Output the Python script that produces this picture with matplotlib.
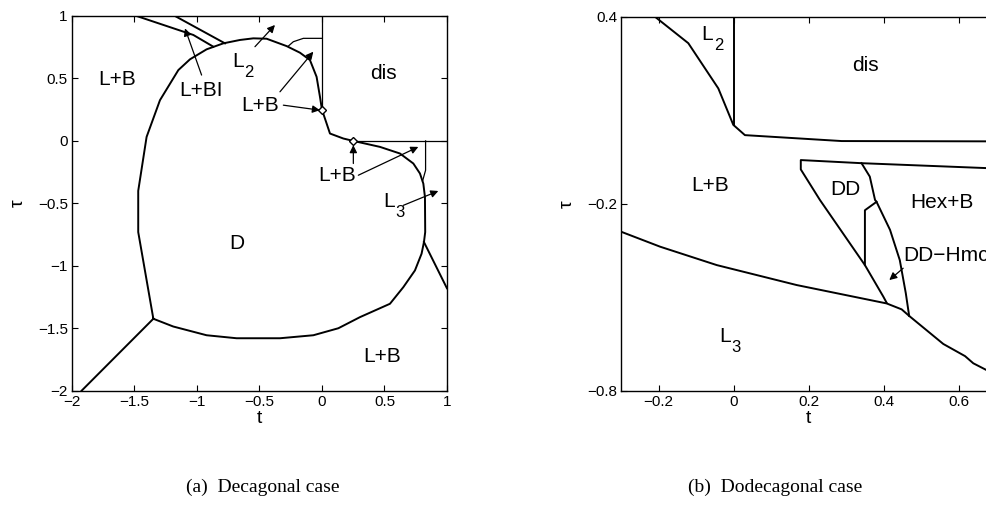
import matplotlib
matplotlib.use("Agg")
import matplotlib.pyplot as plt

plt.rcParams['font.family'] = ['Liberation Sans', 'DejaVu Sans']

# ---- (a) decagonal case: phase boundaries (t, tau) ----
d_t = [-1.349, -1.47, -1.47, -1.403, -1.296, -1.149, -1.056, -0.923, -0.789, -0.656,
       -0.549, -0.443, -0.283, -0.176, -0.096, -0.043, -0.016, 0.0, 0.037, 0.064,
       0.171, 0.25, 0.464, 0.624, 0.731, 0.784, 0.811, 0.824, 0.826, 0.816,
       0.797, 0.744, 0.651, 0.544, 0.304, 0.131, -0.069, -0.336, -0.683, -0.923,
       -1.19, -1.349]
d_tau = [-1.424, -0.73, -0.40, 0.032, 0.326, 0.567, 0.653, 0.733, 0.781, 0.808,
         0.821, 0.818, 0.759, 0.706, 0.647, 0.513, 0.353, 0.25, 0.140, 0.059,
         0.019, 0.0, -0.048, -0.101, -0.181, -0.261, -0.342, -0.449, -0.73, -0.810,
         -0.903, -1.037, -1.171, -1.304, -1.411, -1.50, -1.556, -1.580, -1.580, -1.556,
         -1.486, -1.424]
lbi1_t = [-1.483, -1.029, -0.869]
lbi1_tau = [1.0, 0.848, 0.754]
lbi2_t = [-1.176, -0.776]
lbi2_tau = [1.0, 0.781]
corner_t = [-1.349, -1.923]
corner_tau = [-1.424, -2.0]
right_t = [0.816, 1.0]
right_tau = [-0.81, -1.18]
disv_t = [0.0, 0.0]
disv_tau = [1.0, 0.25]
dish_t = [0.25, 1.0]
dish_tau = [0.0, 0.0]
l2box_t = [-0.269, -0.229, -0.149, 0.0]
l2box_tau = [0.759, 0.794, 0.821, 0.821]
l3v_t = [0.829, 0.829, 0.805]
l3v_tau = [0.0, -0.235, -0.321]
pts_t = [0.0, 0.25]
pts_tau = [0.25, 0.0]

# ---- (b) dodecagonal case ----
top_t = [-0.21, -0.121, -0.041, -0.001, 0.030, 0.288, 0.7]
top_tau = [0.4, 0.315, 0.170, 0.053, 0.020, 0.001, 0.0]
vert_t = [0.0, 0.0]
vert_tau = [0.4, 0.053]
dd_t = [0.408, 0.399, 0.350, 0.230, 0.179, 0.179, 0.341, 0.7]
dd_tau = [-0.518, -0.498, -0.397, -0.188, -0.090, -0.060, -0.070, -0.087]
hex_t = [0.341, 0.363, 0.377, 0.381, 0.417, 0.443, 0.459, 0.468]
hex_tau = [-0.070, -0.113, -0.188, -0.194, -0.284, -0.381, -0.487, -0.560]
inner_t = [0.381, 0.350, 0.350]
inner_tau = [-0.194, -0.221, -0.397]
l3_t = [-0.3, -0.196, -0.045, 0.168, 0.408, 0.448, 0.468, 0.559, 0.617, 0.639, 0.673, 0.7]
l3_tau = [-0.290, -0.338, -0.397, -0.461, -0.520, -0.539, -0.560, -0.650, -0.689, -0.712,
          -0.733, -0.745]

lw = 1.4
fs = 15


def sub_label(a, x, y, sub):
    # "L" with a big, low subscript like the original figure
    a.text(x, y, 'L', fontsize=fs, ha='right', va='center')
    a.annotate(sub, xy=(x, y), xytext=(0.5, -8), textcoords='offset points',
               fontsize=12, ha='left', va='center')


fig = plt.figure(figsize=(9.86, 5.09), dpi=100)

# panel (a)
ax = fig.add_axes([0.0730, 0.2324, 0.3803, 0.7362])
ax.plot(d_t, d_tau, 'k-', lw=lw)
for xs, ys in [(lbi1_t, lbi1_tau), (lbi2_t, lbi2_tau), (corner_t, corner_tau),
               (right_t, right_tau)]:
    ax.plot(xs, ys, 'k-', lw=lw)
for xs, ys in [(disv_t, disv_tau), (dish_t, dish_tau), (l2box_t, l2box_tau),
               (l3v_t, l3v_tau)]:
    ax.plot(xs, ys, 'k-', lw=0.9)
ax.plot(pts_t, pts_tau, 'kD', mfc='white', ms=4, mew=1.0)
ax.set_xlim(-2, 1)
ax.set_ylim(-2, 1)
ax.set_xticks([-2, -1.5, -1, -0.5, 0, 0.5, 1])
ax.set_xticklabels(['\u22122', '\u22121.5', '\u22121', '\u22120.5', '0', '0.5', '1'])
ax.set_yticks([-2, -1.5, -1, -0.5, 0, 0.5, 1])
ax.set_yticklabels(['\u22122', '\u22121.5', '\u22121', '\u22120.5', '0', '0.5', '1'])
ax.set_xlabel('t', fontsize=14, labelpad=1)
ax.set_ylabel('\u03c4', fontsize=14, labelpad=8)

ax.text(-1.64, 0.495, 'L+B', fontsize=fs, ha='center', va='center')
ax.text(-0.97, 0.407, 'L+BI', fontsize=fs, ha='center', va='center')
sub_label(ax, -0.625, 0.634, '2')
ax.text(0.491, 0.54, 'dis', fontsize=fs, ha='center', va='center')
ax.text(-0.496, 0.282, 'L+B', fontsize=fs, ha='center', va='center')
ax.text(0.124, -0.275, 'L+B', fontsize=fs, ha='center', va='center')
sub_label(ax, 0.585, -0.484, '3')
ax.text(-0.683, -0.818, 'D', fontsize=fs, ha='center', va='center')
ax.text(0.485, -1.724, 'L+B', fontsize=fs, ha='center', va='center')

arr = dict(arrowstyle='-|>', lw=0.9, color='k', mutation_scale=11, shrinkA=0, shrinkB=0)
for tail, tip in [((-0.963, 0.527), (-1.096, 0.901)),
                  ((-0.536, 0.754), (-0.376, 0.928)),
                  ((-0.336, 0.393), (-0.069, 0.714)),
                  ((-0.309, 0.286), (-0.016, 0.246)),
                  ((0.251, -0.181), (0.251, -0.034)),
                  ((0.291, -0.275), (0.771, -0.048)),
                  ((0.651, -0.516), (0.931, -0.401))]:
    ax.annotate('', xy=tip, xytext=tail, arrowprops=arr)

# panel (b)
bx = fig.add_axes([0.6300, 0.2324, 0.3803, 0.7348])
for xs, ys in [(top_t, top_tau), (vert_t, vert_tau), (dd_t, dd_tau), (hex_t, hex_tau),
               (inner_t, inner_tau), (l3_t, l3_tau)]:
    bx.plot(xs, ys, 'k-', lw=lw)
bx.set_xlim(-0.3, 0.7)
bx.set_ylim(-0.8, 0.4)
bx.set_xticks([-0.2, 0, 0.2, 0.4, 0.6])
bx.set_xticklabels(['\u22120.2', '0', '0.2', '0.4', '0.6'])
bx.set_yticks([-0.8, -0.2, 0.4])
bx.set_yticklabels(['\u22120.8', '\u22120.2', '0.4'])
bx.set_xlabel('t', fontsize=14, labelpad=1)
bx.set_ylabel('\u03c4', fontsize=14, labelpad=8)

sub_label(bx, -0.055, 0.344, '2')
bx.text(0.352, 0.245, 'dis', fontsize=fs, ha='center', va='center')
bx.text(-0.063, -0.143, 'L+B', fontsize=fs, ha='center', va='center')
bx.text(0.297, -0.156, 'DD', fontsize=fs, ha='center', va='center')
bx.text(0.555, -0.197, 'Hex+B', fontsize=fs, ha='center', va='center')
bx.text(0.452, -0.366, 'DD\u2212Hmc', fontsize=fs, ha='left', va='center')
sub_label(bx, -0.008, -0.627, '3')
bx.annotate('', xy=(0.415, -0.445), xytext=(0.452, -0.407), arrowprops=arr)

for a in (ax, bx):
    a.tick_params(direction='in', top=True, right=True, length=4, width=0.8,
                  labelsize=11, pad=3)
    for s in a.spines.values():
        s.set_linewidth(1.0)

fig.text(0.266, 0.043, '(a)  Decagonal case', fontsize=14, ha='center', va='center',
         family=['Liberation Serif', 'DejaVu Serif'])
fig.text(0.786, 0.043, '(b)  Dodecagonal case', fontsize=14, ha='center', va='center',
         family=['Liberation Serif', 'DejaVu Serif'])

fig.savefig('out.png', dpi=100)
plt.close(fig)
